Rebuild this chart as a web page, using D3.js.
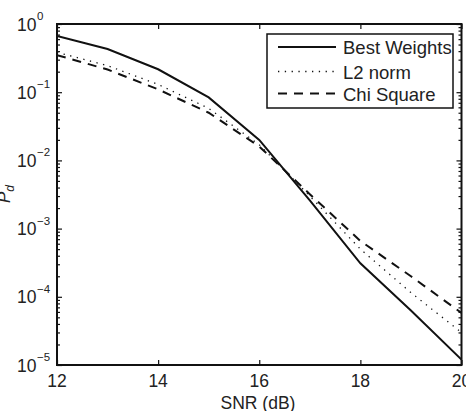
<!DOCTYPE html>
<html>
<head>
<meta charset="utf-8">
<script src="https://cdn.jsdelivr.net/npm/d3@7"></script>
<style>
  html, body { margin: 0; padding: 0; background: #fff; }
  svg { display: block; }
  text { font-family: "Liberation Sans", Arial, sans-serif; fill: #222; }
</style>
</head>
<body>
<svg id="chart" width="466" height="411"></svg>
<script>
// ---- data ----
const snr = [12, 13, 14, 15, 16, 17, 18, 19, 20];
const bestWeights = [0.67, 0.43, 0.217, 0.084, 0.020, 0.0026, 3.1e-4, 6.3e-5, 1.2e-5];
const l2Norm      = [0.385, 0.245, 0.13, 0.058, 0.017, 0.0030, 5.0e-4, 1.15e-4, 3.0e-5];
const chiSquare   = [0.35, 0.215, 0.11, 0.050, 0.016, 0.0032, 6.6e-4, 2.0e-4, 5.8e-5];
const seriesNames = ["Best Weights", "L2 norm", "Chi Square"];
const xTicks = [12, 14, 16, 18, 20];
const yExponents = [0, -1, -2, -3, -4, -5];
const xLabel = "SNR (dB)";

// ---- layout ----
const W = 466, H = 411;
const L = 57, R = 461.5, T = 24, B = 365;
const svg = d3.select("#chart");

const x = d3.scaleLinear().domain([12, 20]).range([L, R]);
const y = d3.scaleLog().domain([1e-5, 1]).range([B, T]);

const styles = [
  { dash: null, width: 2 },
  { dash: "1.3,5.5", width: 1.3 },
  { dash: "9,7", width: 2 }
];
const allSeries = [bestWeights, l2Norm, chiSquare];

// clip
svg.append("defs").append("clipPath").attr("id", "clip")
  .append("rect").attr("x", L).attr("y", T).attr("width", R - L).attr("height", B - T);

const line = d3.line().x(d => x(d[0])).y(d => y(d[1]));
const gLines = svg.append("g").attr("clip-path", "url(#clip)");
allSeries.forEach((vals, i) => {
  gLines.append("path")
    .datum(snr.map((s, j) => [s, vals[j]]))
    .attr("d", line)
    .attr("fill", "none")
    .attr("stroke", "#111")
    .attr("stroke-width", styles[i].width)
    .attr("stroke-dasharray", styles[i].dash);
});

// axes (ticks inward) using d3 axes
const axBottom = d3.axisBottom(x).tickValues(xTicks).tickSizeInner(-5).tickSizeOuter(0).tickFormat("");
const axTop = d3.axisTop(x).tickValues(xTicks).tickSizeInner(-5).tickSizeOuter(0).tickFormat("");
svg.append("g").attr("transform", `translate(0,${B})`).call(axBottom);
svg.append("g").attr("transform", `translate(0,${T})`).call(axTop);

const minorVals = [];
for (let e = -5; e < 0; e++) for (let k = 2; k <= 9; k++) minorVals.push(k * Math.pow(10, e));
const majorVals = yExponents.map(e => Math.pow(10, e));
const axL = d3.axisLeft(y).tickValues(majorVals).tickSizeInner(-5).tickSizeOuter(0).tickFormat("");
const axR = d3.axisRight(y).tickValues(majorVals).tickSizeInner(-5).tickSizeOuter(0).tickFormat("");
const axLm = d3.axisLeft(y).tickValues(minorVals).tickSizeInner(-3).tickSizeOuter(0).tickFormat("");
const axRm = d3.axisRight(y).tickValues(minorVals).tickSizeInner(-3).tickSizeOuter(0).tickFormat("");
[[axL, L], [axLm, L], [axR, R], [axRm, R]].forEach(([a, px]) => {
  svg.append("g").attr("transform", `translate(${px},0)`).call(a);
});
svg.selectAll(".domain").remove();
svg.selectAll(".tick line").attr("stroke", "#111").attr("stroke-width", 1.2);

// box
svg.append("rect").attr("x", L).attr("y", T).attr("width", R - L).attr("height", B - T)
  .attr("fill", "none").attr("stroke", "#111").attr("stroke-width", 2);

// x tick labels
xTicks.forEach(v => {
  svg.append("text").attr("x", x(v)).attr("y", 387).attr("text-anchor", "middle")
    .attr("font-size", 17.5).text(v);
});
// y tick labels
yExponents.forEach(e => {
  const yy = y(Math.pow(10, e));
  svg.append("text").attr("x", 17).attr("y", yy + 6.5).attr("font-size", 17.5).text("10");
  svg.append("text").attr("x", 37).attr("y", yy - 4).attr("font-size", 11.5)
    .text(e === 0 ? "0" : "\u2212" + Math.abs(e));
});

// axis labels
svg.append("text").attr("x", 258).attr("y", 409).attr("text-anchor", "middle")
  .attr("font-size", 17.5).text(xLabel);
const yl = svg.append("text").attr("transform", "translate(9.5,194) rotate(-90)")
  .attr("text-anchor", "middle").attr("font-size", 17)
  .attr("font-family", "'Liberation Serif', serif").attr("font-style", "italic");
yl.append("tspan").text("P");
yl.append("tspan").attr("font-size", 12).attr("dy", 4).text("d");

// legend
const lg = svg.append("g");
lg.append("rect").attr("x", 267).attr("y", 34).attr("width", 186).attr("height", 74)
  .attr("fill", "#fff").attr("stroke", "#111").attr("stroke-width", 1.5);
const rowY = [47, 71.5, 93.5];
seriesNames.forEach((n, i) => {
  lg.append("line").attr("x1", 278).attr("x2", 336).attr("y1", rowY[i]).attr("y2", rowY[i])
    .attr("stroke", "#111").attr("stroke-width", styles[i].width)
    .attr("stroke-dasharray", styles[i].dash);
  lg.append("text").attr("x", 343).attr("y", rowY[i] + 7).attr("font-size", 18.5).text(n);
});
</script>
</body>
</html>
